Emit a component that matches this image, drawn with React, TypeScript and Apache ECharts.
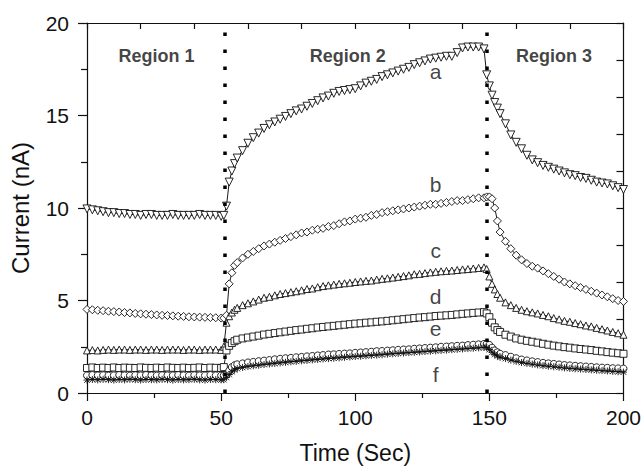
import React, { useEffect, useRef } from "react";
import * as echarts from "echarts";

const times = [
  0, 2, 4, 6, 8, 10, 12, 14, 16, 18, 20, 22, 24, 26, 28, 30, 32, 34, 36, 38, 40, 42, 44, 46, 48, 50,
  51, 52, 53, 54, 55,
  56, 58, 60, 62, 64, 66, 68, 70, 72, 74, 76, 78, 80, 82, 84, 86, 88, 90, 92, 94, 96, 98, 100, 102, 104,
  106, 108, 110, 112, 114, 116, 118, 120, 122, 124, 126, 128, 130, 132, 134, 136, 138, 140, 142, 144, 146, 148,
  149, 150, 151, 152, 153, 154,
  156, 158, 160, 162, 164, 166, 168, 170, 172, 174, 176, 178, 180, 182, 184, 186, 188, 190, 192, 194, 196, 198, 200,
];

const curveA = [
  9.95, 9.9, 9.85, 9.8, 9.75, 9.75, 9.7, 9.7, 9.65, 9.65, 9.6, 9.65, 9.65, 9.6, 9.6, 9.6, 9.65, 9.6, 9.6, 9.6, 9.6, 9.65, 9.6, 9.6, 9.6, 9.55,
  9.6, 10.1, 11.4, 12.0, 12.4,
  12.7, 13.1, 13.5, 13.8, 14.05, 14.3, 14.5, 14.65, 14.8, 14.95, 15.1, 15.25, 15.35, 15.5, 15.65, 15.8, 15.95, 16.05, 16.2, 16.3, 16.35, 16.4, 16.45, 16.6,
  16.75, 16.85, 16.95, 17.1, 17.2, 17.3, 17.4, 17.5, 17.6, 17.75, 17.85, 17.95, 18.05, 18.1, 18.15, 18.2, 18.2, 18.4, 18.65, 18.7, 18.7, 18.7, 18.6,
  17.2, 16.6, 16.1, 15.7, 15.4, 15.1,
  14.55, 13.95, 13.55, 13.2, 12.85, 12.6, 12.45, 12.3, 12.2, 12.1, 12.0, 11.9, 11.8, 11.75, 11.65, 11.6, 11.5, 11.4, 11.35, 11.3, 11.2, 11.1, 11.0,
];

const curveB = [
  4.52, 4.5, 4.47, 4.45, 4.42, 4.4, 4.38, 4.35, 4.33, 4.3, 4.28, 4.26, 4.24, 4.22, 4.2, 4.19, 4.17, 4.15, 4.14, 4.12, 4.11, 4.1, 4.09, 4.08, 4.07, 4.05,
  4.05, 4.2, 5.9, 6.5, 6.9,
  7.05, 7.3, 7.5, 7.65, 7.8, 7.95, 8.05, 8.15, 8.25, 8.35, 8.45, 8.55, 8.65, 8.7, 8.8, 8.85, 8.9, 9.0, 9.05, 9.15, 9.25, 9.3, 9.4, 9.45,
  9.5, 9.6, 9.65, 9.75, 9.8, 9.85, 9.9, 9.95, 10.0, 10.05, 10.1, 10.15, 10.2, 10.2, 10.25, 10.3, 10.35, 10.4, 10.4, 10.45, 10.5, 10.55, 10.55,
  10.6, 10.6, 10.5, 10.0, 9.3, 8.7,
  8.2, 7.8, 7.45, 7.2, 7.0, 6.85, 6.75, 6.6, 6.45, 6.3, 6.15, 6.0, 5.9, 5.8, 5.7, 5.6, 5.5, 5.4, 5.3, 5.2, 5.1, 5.0, 4.95,
];

const curveC = [
  2.3, 2.32, 2.3, 2.33, 2.35, 2.33, 2.35, 2.35, 2.33, 2.35, 2.35, 2.33, 2.35, 2.35, 2.33, 2.35, 2.35, 2.35, 2.33, 2.35, 2.35, 2.33, 2.35, 2.35, 2.35, 2.33,
  2.5, 3.8, 4.15, 4.35, 4.5,
  4.6, 4.75, 4.85, 4.95, 5.05, 5.15, 5.2, 5.28, 5.35, 5.4, 5.45, 5.5, 5.55, 5.62, 5.65, 5.72, 5.78, 5.82, 5.86, 5.9, 5.93, 5.96, 6.0, 6.03,
  6.06, 6.08, 6.13, 6.17, 6.2, 6.24, 6.28, 6.32, 6.36, 6.42, 6.44, 6.48, 6.52, 6.55, 6.58, 6.6, 6.62, 6.65, 6.68, 6.7, 6.73, 6.76, 6.79,
  6.7, 6.3, 5.9, 5.6, 5.35, 5.15,
  4.9, 4.75, 4.6, 4.5, 4.42, 4.36, 4.3, 4.22, 4.15, 4.05, 3.98, 3.9, 3.85, 3.78, 3.72, 3.65, 3.6, 3.52, 3.45, 3.38, 3.3, 3.23, 3.15,
];

const curveD = [
  1.35, 1.38, 1.35, 1.37, 1.35, 1.38, 1.35, 1.37, 1.36, 1.35, 1.38, 1.36, 1.35, 1.37, 1.35, 1.38, 1.36, 1.35, 1.37, 1.35, 1.36, 1.38, 1.35, 1.37, 1.36, 1.35,
  1.4, 2.3, 2.55, 2.7, 2.8,
  2.88, 2.95, 3.0, 3.05, 3.1, 3.16, 3.2, 3.24, 3.28, 3.32, 3.36, 3.4, 3.43, 3.47, 3.5, 3.54, 3.57, 3.6, 3.63, 3.66, 3.69, 3.72, 3.75, 3.77,
  3.8, 3.82, 3.85, 3.87, 3.9, 3.93, 3.96, 3.99, 4.02, 4.05, 4.08, 4.1, 4.13, 4.16, 4.18, 4.2, 4.22, 4.25, 4.28, 4.3, 4.33, 4.35, 4.37,
  4.3, 4.1, 3.8, 3.55, 3.4, 3.3,
  3.15, 3.05, 2.95, 2.88, 2.82, 2.77, 2.72, 2.66, 2.61, 2.56, 2.52, 2.48, 2.45, 2.41, 2.38, 2.35, 2.32, 2.28, 2.25, 2.21, 2.18, 2.15, 2.12,
];

const curveE = [
  0.95, 0.97, 0.95, 0.96, 0.94, 0.95, 0.97, 0.95, 0.94, 0.96, 0.95, 0.97, 0.95, 0.94, 0.96, 0.95, 0.95, 0.97, 0.95, 0.94, 0.96, 0.95, 0.95, 0.97, 0.95, 0.94,
  0.95, 1.0, 1.2, 1.4, 1.5,
  1.55, 1.6, 1.65, 1.68, 1.72, 1.75, 1.78, 1.82, 1.85, 1.88, 1.9, 1.93, 1.95, 1.98, 2.0, 2.03, 2.05, 2.08, 2.09, 2.11, 2.13, 2.14, 2.17, 2.19,
  2.21, 2.23, 2.26, 2.27, 2.29, 2.31, 2.33, 2.35, 2.36, 2.39, 2.41, 2.43, 2.45, 2.47, 2.5, 2.51, 2.53, 2.55, 2.56, 2.59, 2.61, 2.63, 2.65,
  2.65, 2.6, 2.45, 2.3, 2.2, 2.12,
  2.05, 1.96, 1.88, 1.81, 1.76, 1.71, 1.67, 1.63, 1.6, 1.57, 1.54, 1.51, 1.49, 1.47, 1.45, 1.43, 1.41, 1.39, 1.37, 1.36, 1.34, 1.33, 1.32,
];

const curveF = [
  0.7, 0.73, 0.71, 0.74, 0.72, 0.7, 0.73, 0.71, 0.74, 0.72, 0.7, 0.73, 0.72, 0.71, 0.74, 0.72, 0.7, 0.73, 0.71, 0.72, 0.74, 0.71, 0.7, 0.73, 0.72, 0.71,
  0.72, 0.85, 1.0, 1.15, 1.25,
  1.32, 1.38, 1.43, 1.47, 1.5, 1.54, 1.57, 1.6, 1.63, 1.66, 1.69, 1.71, 1.74, 1.76, 1.79, 1.81, 1.84, 1.86, 1.88, 1.9, 1.93, 1.95, 1.97, 1.99,
  2.01, 2.03, 2.05, 2.07, 2.1, 2.12, 2.14, 2.16, 2.18, 2.2, 2.22, 2.24, 2.26, 2.28, 2.3, 2.32, 2.34, 2.36, 2.38, 2.4, 2.42, 2.44, 2.46,
  2.45, 2.35, 2.2, 2.08, 2.0, 1.93,
  1.86, 1.78, 1.71, 1.65, 1.6, 1.56, 1.52, 1.48, 1.45, 1.42, 1.39, 1.36, 1.33, 1.31, 1.29, 1.27, 1.25, 1.23, 1.21, 1.19, 1.17, 1.15, 1.13,
];

const curveNames = ["a", "b", "c", "d", "e", "f"];
const curves = [curveA, curveB, curveC, curveD, curveE, curveF];

// annotation anchors (data coordinates)
const curveLabelTime = 130;
const curveLabelValues = [17.39, 11.27, 7.68, 5.23, 3.47, 1.01];
const regionNames = ["Region 1", "Region 2", "Region 3"];
const regionTimes = [25.9, 97.2, 174.1];
const regionValue = 18.2;
const boundaryTimes = [51.4, 148.9];

const xTicks = [0, 50, 100, 150, 200];
const yTicks = [0, 5, 10, 15, 20];

const FONT = "'Liberation Sans', Arial, Helvetica, sans-serif";

const symbols = [
  "path://M0,0L10,0L5,10Z",
  "diamond",
  "triangle",
  "rect",
  "circle",
  "path://M5,0L5,10M0,5L10,5M1,1L9,9M9,1L1,9",
];
const symbolSizes = [8, 8, 7, 7, 7, 7];

export default function App() {
  const ref = useRef<HTMLDivElement>(null);
  useEffect(() => {
    if (!ref.current) return;
    const chart = echarts.init(ref.current, undefined, { renderer: "svg" });
    const lineSeries = curves.map((arr, i) => ({
      name: curveNames[i],
      type: "line",
      xAxisIndex: 0,
      yAxisIndex: 0,
      data: times.map((t, k) => [t, arr[k]]),
      symbol: symbols[i],
      symbolSize: symbolSizes[i],
      showAllSymbol: true,
      lineStyle: { color: "#000", width: 0.9 },
      itemStyle: { color: "#fff", borderColor: "#111", borderWidth: 0.9 },
      z: 2,
      silent: true,
    }));
    const option: any = {
      animation: false,
      backgroundColor: "#fff",
      grid: { left: 86, right: 17, top: 23, bottom: 71, containLabel: false },
      xAxis: [
        {
          type: "value",
          position: "bottom",
          min: xTicks[0],
          max: xTicks[xTicks.length - 1],
          interval: 50,
          name: "Time (Sec)",
          nameLocation: "middle",
          nameGap: 48,
          nameTextStyle: { fontFamily: FONT, fontSize: 23, color: "#111" },
          axisLine: { show: true, lineStyle: { color: "#111", width: 1.2 } },
          axisTick: { show: true, inside: false, length: 8, lineStyle: { color: "#111", width: 1.2 } },
          minorTick: { show: true, splitNumber: 2, length: 5, lineStyle: { color: "#111", width: 1.2 } },
          axisLabel: { fontFamily: FONT, fontSize: 21, color: "#111", margin: 14 },
          splitLine: { show: false },
        },
        {
          type: "value",
          position: "top",
          min: 0,
          max: 200,
          interval: 20,
          axisLine: { show: true, onZero: false, lineStyle: { color: "#111", width: 1.2 } },
          axisTick: { show: true, inside: true, length: 6, lineStyle: { color: "#111", width: 1.2 } },
          axisLabel: { show: false },
          splitLine: { show: false },
        },
      ],
      yAxis: [
        {
          type: "value",
          position: "left",
          min: yTicks[0],
          max: yTicks[yTicks.length - 1],
          interval: 5,
          name: "Current (nA)",
          nameLocation: "middle",
          nameGap: 55,
          nameTextStyle: { fontFamily: FONT, fontSize: 24, color: "#111" },
          axisLine: { show: true, lineStyle: { color: "#111", width: 1.2 } },
          axisTick: { show: true, inside: false, length: 9, lineStyle: { color: "#111", width: 1.2 } },
          minorTick: { show: true, splitNumber: 2, length: 6, lineStyle: { color: "#111", width: 1.2 } },
          axisLabel: { fontFamily: FONT, fontSize: 21, color: "#111", margin: 18 },
          splitLine: { show: false },
        },
        {
          type: "value",
          position: "right",
          min: 0,
          max: 20,
          interval: 2,
          axisLine: { show: true, onZero: false, lineStyle: { color: "#111", width: 1.2 } },
          axisTick: { show: true, inside: true, length: 7, lineStyle: { color: "#111", width: 1.2 } },
          axisLabel: { show: false },
          splitLine: { show: false },
        },
      ],
      series: [
        {
          type: "line",
          data: [],
          markLine: {
            silent: true,
            symbol: ["none", "none"],
            label: { show: false },
            lineStyle: { color: "#000", width: 3.5, type: [3.5, 13.5], cap: "butt" },
            data: boundaryTimes.map((t) => ({ xAxis: t })),
          },
          z: 1,
        },
        ...lineSeries,
        {
          type: "scatter",
          symbolSize: 0,
          silent: true,
          data: curveLabelValues.map((v, i) => ({ value: [curveLabelTime, v], name: curveNames[i] })),
          label: {
            show: true,
            position: "inside",
            formatter: (p: any) => p.name,
            fontFamily: FONT,
            fontSize: 21,
            color: "#111",
          },
          z: 5,
        },
        {
          type: "scatter",
          symbolSize: 0,
          silent: true,
          data: regionNames.map((n, i) => ({ value: [regionTimes[i], regionValue], name: n })),
          label: {
            show: true,
            position: "inside",
            formatter: (p: any) => p.name,
            fontFamily: FONT,
            fontSize: 18,
            fontWeight: "bold",
            color: "#111",
          },
          z: 5,
        },
      ],
    };
    chart.setOption(option);
    return () => chart.dispose();
  }, []);
  return (
    <div
      ref={ref}
      style={{ position: "fixed", left: 0, top: 0, width: 644, height: 469, background: "#fff" }}
    />
  );
}
